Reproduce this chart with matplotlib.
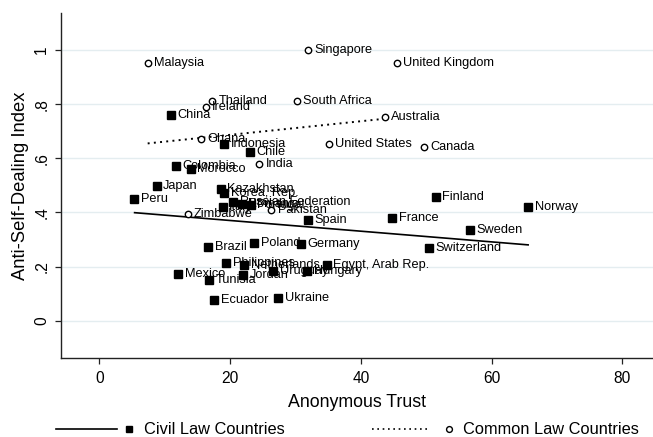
import numpy as np
import matplotlib
matplotlib.use("Agg")
import matplotlib.pyplot as plt
from matplotlib.lines import Line2D

plt.rcParams['font.family'] = ['Liberation Sans', 'DejaVu Sans']

# civil law countries (filled squares)
civil_names = ["China", "Indonesia", "Chile", "Colombia", "Morocco", "Japan", "Peru",
               "Kazakhstan", "Korea, Rep.", "Russian Federation", "Romania", "Italy",
               "Portugal", "Spain", "Brazil", "Poland", "Germany", "Finland", "Norway",
               "France", "Sweden", "Switzerland", "Philippines", "Netherlands",
               "Egypt, Arab Rep.", "Uruguay", "Hungary", "Jordan", "Tunisia", "Mexico",
               "Ecuador", "Ukraine"]
civil_trust = [10.9, 19.1, 23.0, 11.7, 14.0, 8.8, 5.35,
               18.6, 19.1, 20.5, 21.8, 18.9,
               23.2, 32.0, 16.7, 23.7, 30.8, 51.5, 65.6,
               44.8, 56.7, 50.5, 19.4, 22.2,
               34.8, 26.6, 31.8, 22.0, 16.8, 12.1,
               17.6, 27.4]
civil_index = [0.761, 0.653, 0.623, 0.573, 0.560, 0.499, 0.450,
               0.485, 0.471, 0.440, 0.432, 0.421,
               0.427, 0.372, 0.272, 0.286, 0.282, 0.458, 0.421,
               0.378, 0.335, 0.270, 0.213, 0.204,
               0.206, 0.184, 0.184, 0.169, 0.150, 0.172,
               0.077, 0.083]

# common law countries (hollow circles)
common_names = ["Malaysia", "Singapore", "United Kingdom", "Thailand", "Ireland",
                "South Africa", "Australia", "Ghana", "United States", "Canada",
                "India", "Zimbabwe", "Pakistan"]
common_trust = [7.4, 32.0, 45.5, 17.3, 16.3, 30.2, 43.7, 15.5, 35.1, 49.7, 24.5, 13.5, 26.3]
common_index = [0.951, 0.999, 0.951, 0.813, 0.788, 0.813, 0.754, 0.671, 0.653, 0.643,
                0.579, 0.394, 0.408]

# fitted lines
civil_fit_x = [5.4, 65.6]
civil_fit_y = [0.399, 0.280]
common_fit_x = [7.4, 43.2]
common_fit_y = [0.655, 0.745]

xticks = [0, 20, 40, 60, 80]
yticks = [0, 0.2, 0.4, 0.6, 0.8, 1]
ytick_labels = ["0", ".2", ".4", ".6", ".8", "1"]

W, H = 653, 437
fig = plt.figure(figsize=(W / 100, H / 100), dpi=100)
ax = fig.add_axes([61 / W, (H - 357.7) / H, (W - 61) / W, (357.7 - 13) / H])

ax.set_xlim(-5.86, 84.7)
ax.set_ylim(-0.137, 1.137)

for y in yticks:
    ax.axhline(y, color="#e4edf0", lw=1.0, zorder=0)

ax.plot(civil_fit_x, civil_fit_y, color="black", lw=1.2, zorder=2)
ax.plot(common_fit_x, common_fit_y, color="black", lw=1.4,
        linestyle=(0, (1, 2.2)), zorder=2)

ax.plot(civil_trust, civil_index, "s", color="black", ms=5.2, zorder=3)
ax.plot(common_trust, common_index, "o", mfc="white", mec="black", ms=4.6,
        mew=1.0, zorder=3)

for n, x, y in zip(civil_names, civil_trust, civil_index):
    ax.annotate(n, (x, y), xytext=(4.6, 0), textcoords="offset points",
                ha="left", va="center", fontsize=9.2, zorder=4)
for n, x, y in zip(common_names, common_trust, common_index):
    ax.annotate(n, (x, y), xytext=(4.6, 0), textcoords="offset points",
                ha="left", va="center", fontsize=9.2, zorder=4)

ax.spines["top"].set_visible(False)
ax.spines["right"].set_visible(False)
for s in ["left", "bottom"]:
    ax.spines[s].set_linewidth(1.0)
    ax.spines[s].set_color("#222222")

ax.set_xticks(xticks)
ax.set_yticks(yticks)
ax.set_yticklabels(ytick_labels, rotation=90, va="center")
ax.tick_params(axis="both", length=4.5, width=0.9, color="#222222",
               labelsize=11.2, pad=5)
ax.tick_params(axis="y", pad=4)

ax.set_xlabel("Anonymous Trust", fontsize=12.8)
ax.set_ylabel("Anti-Self-Dealing Index", fontsize=13.2)
ax.xaxis.set_label_coords(0.5, -0.105)
ax.yaxis.set_label_coords(-0.054, 0.5)

# legend below the plot, drawn in figure pixels
def fy(y):
    return (H - y) / H

fig.add_artist(Line2D([56 / W, 117 / W], [fy(429), fy(429)], color="black", lw=1.2))
fig.add_artist(Line2D([129 / W], [fy(429)], marker="s", color="black", ms=4.5))
fig.text(144 / W, fy(429), "Civil Law Countries", fontsize=11.8, va="center")
fig.add_artist(Line2D([372 / W, 429 / W], [fy(429), fy(429)], color="black", lw=1.2,
                      linestyle=(0, (1, 2.2))))
fig.add_artist(Line2D([449 / W], [fy(429)], marker="o", mfc="white", mec="black",
                      ms=4.2, mew=1.0))
fig.text(463 / W, fy(429), "Common Law Countries", fontsize=11.8, va="center")

fig.savefig("out.png", dpi=100)
